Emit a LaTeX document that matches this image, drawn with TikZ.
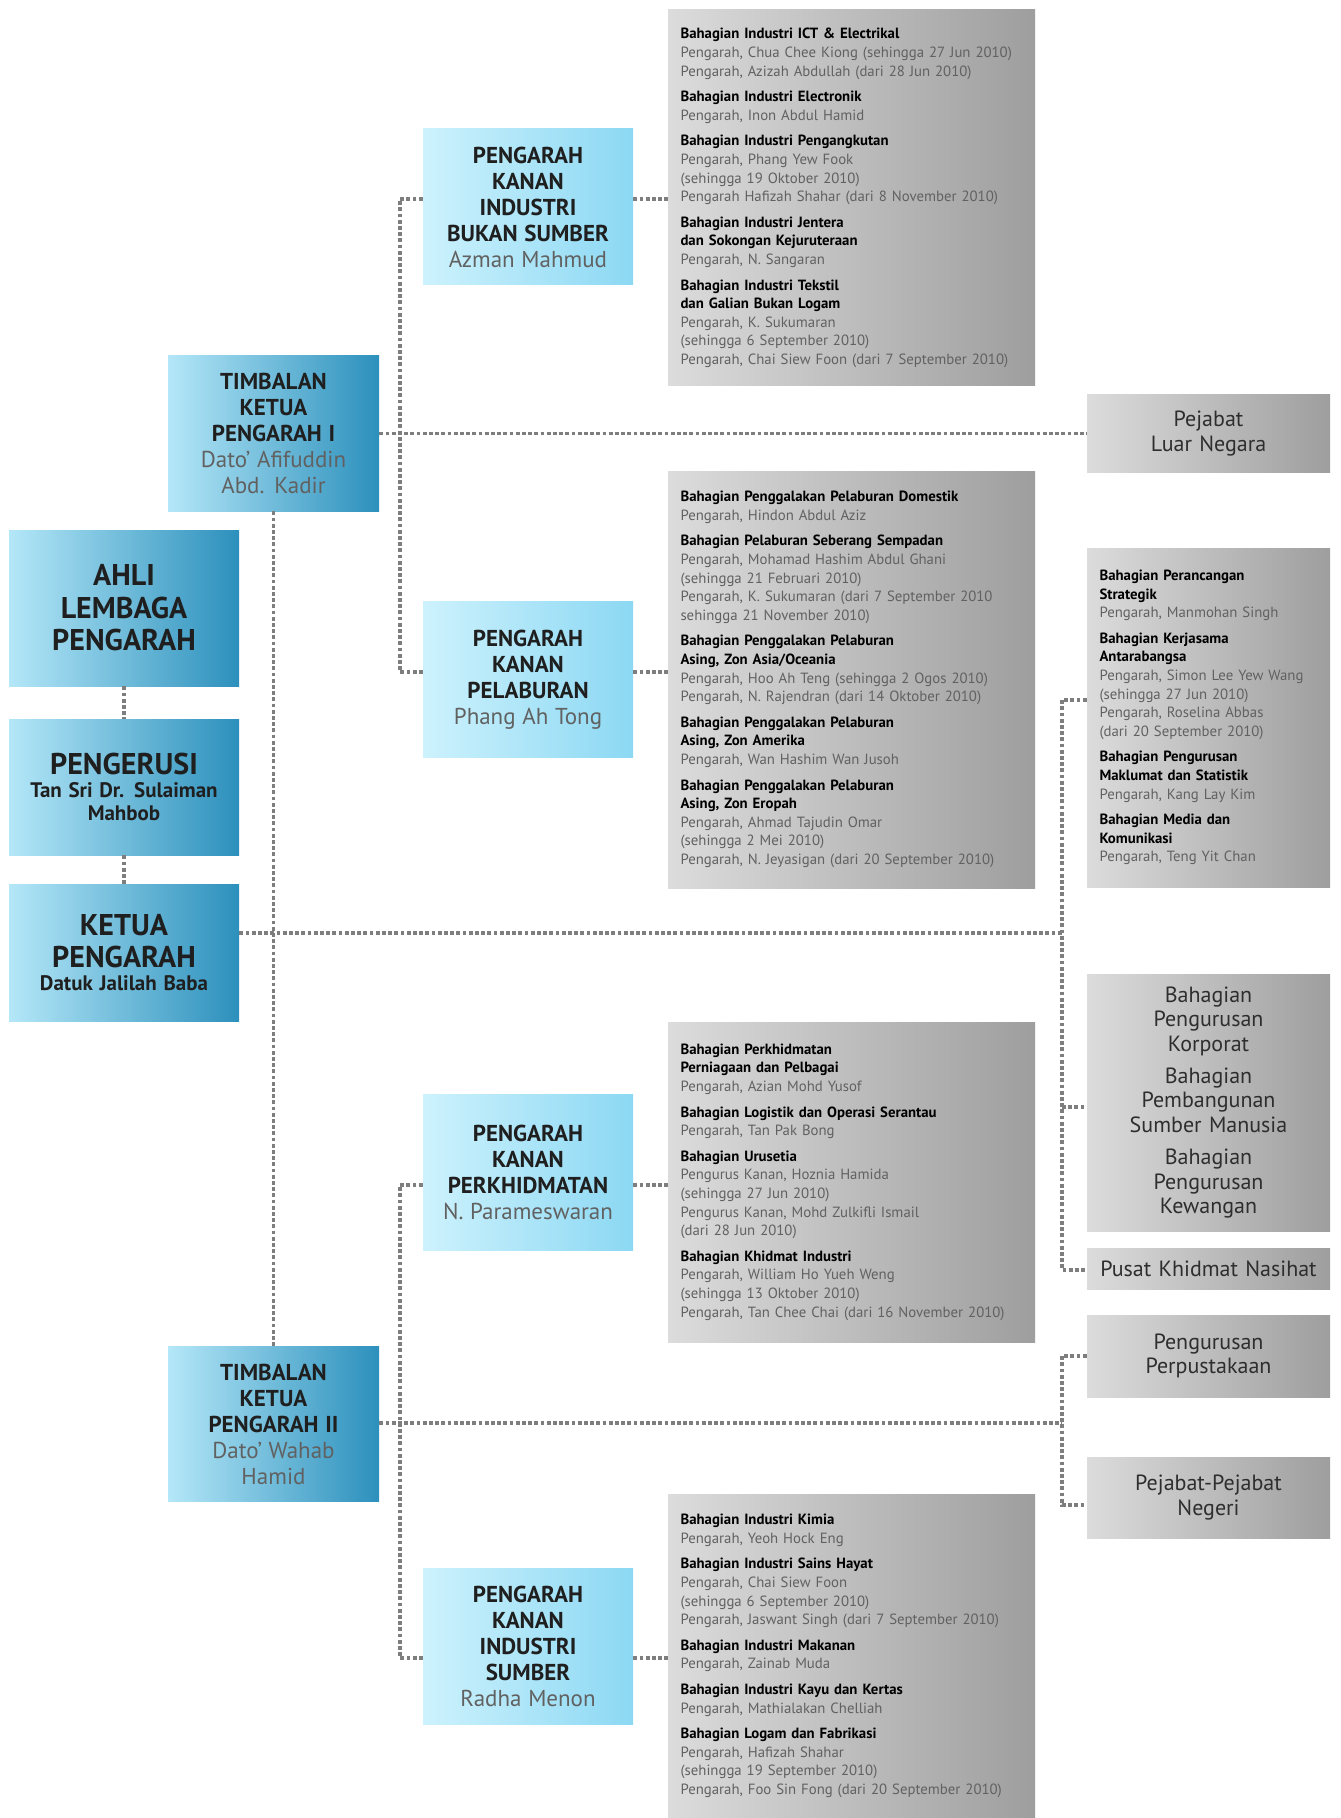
\documentclass[tikz,border=0pt]{standalone}
\usepackage{fontspec}
\setmainfont{PT Sans}
\definecolor{biruA}{HTML}{B4E7F8}
\definecolor{biruB}{HTML}{2C90BC}
\definecolor{biruC}{HTML}{CDF2FD}
\definecolor{biruD}{HTML}{8CD8F3}
\definecolor{kelabuA}{HTML}{DCDCDC}
\definecolor{kelabuB}{HTML}{9E9E9E}
\definecolor{garisan}{HTML}{7E7E7E}
\tikzset{ketua/.style={rectangle,left color=biruA,right color=biruB,minimum width=115pt,
    text width=111pt,inner sep=2pt,align=center,text=black!88},
  timbalan/.style={ketua,minimum width=105.5pt,text width=101.5pt,minimum height=77.5pt},
  kanan/.style={rectangle,left color=biruC,right color=biruD,minimum width=105pt,
    text width=101pt,minimum height=78pt,inner sep=2pt,align=center,text=black!88},
  bahagian/.style={rectangle,left color=kelabuA,right color=kelabuB,inner xsep=6.25pt,
    inner ysep=0pt,text width=171pt,align=left,font=\fontsize{7.4}{9.3}\selectfont},
  unit/.style={rectangle,left color=kelabuA,right color=kelabuB,minimum width=121.5pt,
    text width=117.5pt,inner sep=2pt,align=center,text=black!82,
    font=\fontsize{11}{12.2}\selectfont},
  garis/.style={draw=garisan,line width=1.7pt,dash pattern=on 1.9pt off 1.2pt}}
\newcommand{\tajuk}[1]{\textbf{#1}}
\newcommand{\nama}[1]{{\color{black!62}#1}}
\newcommand{\sela}{\\[3.5pt]}
\newcommand{\besar}{\fontsize{15}{16.3}\selectfont\bfseries}
\newcommand{\jawatan}{\fontsize{11.5}{13}\selectfont\bfseries}
\newcommand{\orang}{\fontsize{11.5}{13}\selectfont\mdseries\color{black!62}}
\begin{document}
\begin{tikzpicture}[x=0.5pt,y=-0.5pt]
  \useasboundingbox (0,0) rectangle (1340,1818);
  % lembaga dan ketua pengarah
  \node[ketua,minimum height=78pt] (ahli) at (124,608) {{\besar AHLI\\LEMBAGA\\PENGARAH\par}};
  \node[ketua,minimum height=68pt] (pengerusi) at (124,787)
    {{\besar PENGERUSI\par}{\fontsize{10.5}{11.5}\selectfont\bfseries Tan Sri Dr. Sulaiman\\Mahbob\par}};
  \node[ketua,minimum height=68.5pt] (ketua) at (124,952.5)
    {{\besar KETUA\\PENGARAH\par}{\fontsize{10.5}{11.5}\selectfont\bfseries Datuk Jalilah Baba\par}};
  % timbalan
  \node[timbalan] (tkp1) at (273.5,433.5)
    {{\jawatan TIMBALAN\\KETUA\\PENGARAH I\par}{\orang Dato’ Afifuddin\\Abd. Kadir\par}};
  \node[timbalan] (tkp2) at (273.5,1424)
    {{\jawatan TIMBALAN\\KETUA\\PENGARAH II\par}{\orang Dato’ Wahab\\Hamid\par}};
  % pengarah kanan
  \node[kanan] (pkibs) at (528,207)
    {{\jawatan PENGARAH\\KANAN\\INDUSTRI\\BUKAN SUMBER\par}{\orang Azman Mahmud\par}};
  \node[kanan] (pkp) at (528,679.5)
    {{\jawatan PENGARAH\\KANAN\\PELABURAN\par}{\orang Phang Ah Tong\par}};
  \node[kanan] (pkper) at (528,1172.5)
    {{\jawatan PENGARAH\\KANAN\\PERKHIDMATAN\par}{\orang N. Parameswaran\par}};
  \node[kanan] (pkis) at (528,1646)
    {{\jawatan PENGARAH\\KANAN\\INDUSTRI\\SUMBER\par}{\orang Radha Menon\par}};
  % bahagian
  \node[bahagian,minimum height=188pt] (g1) at (851.5,198) {%
    \tajuk{Bahagian Industri ICT \& Electrikal}\\
    \nama{Pengarah, Chua Chee Kiong (sehingga 27 Jun 2010)}\\
    \nama{Pengarah, Azizah Abdullah (dari 28 Jun 2010)}\sela
    \tajuk{Bahagian Industri Electronik}\\
    \nama{Pengarah, Inon Abdul Hamid}\sela
    \tajuk{Bahagian Industri Pengangkutan}\\
    \nama{Pengarah, Phang Yew Fook}\\
    \nama{(sehingga 19 Oktober 2010)}\\
    \nama{Pengarah Hafizah Shahar (dari 8 November 2010)}\sela
    \tajuk{Bahagian Industri Jentera}\\
    \tajuk{dan Sokongan Kejuruteraan}\\
    \nama{Pengarah, N. Sangaran}\sela
    \tajuk{Bahagian Industri Tekstil}\\
    \tajuk{dan Galian Bukan Logam}\\
    \nama{Pengarah, K. Sukumaran}\\
    \nama{(sehingga 6 September 2010)}\\
    \nama{Pengarah, Chai Siew Foon (dari 7 September 2010)}};
  \node[bahagian,minimum height=208.5pt] (g2) at (851.5,679.5) {%
    \tajuk{Bahagian Penggalakan Pelaburan Domestik}\\
    \nama{Pengarah, Hindon Abdul Aziz}\sela
    \tajuk{Bahagian Pelaburan Seberang Sempadan}\\
    \nama{Pengarah, Mohamad Hashim Abdul Ghani}\\
    \nama{(sehingga 21 Februari 2010)}\\
    \nama{Pengarah, K. Sukumaran (dari 7 September 2010}\\
    \nama{sehingga 21 November 2010)}\sela
    \tajuk{Bahagian Penggalakan Pelaburan}\\
    \tajuk{Asing, Zon Asia/Oceania}\\
    \nama{Pengarah, Hoo Ah Teng (sehingga 2 Ogos 2010)}\\
    \nama{Pengarah, N. Rajendran (dari 14 Oktober 2010)}\sela
    \tajuk{Bahagian Penggalakan Pelaburan}\\
    \tajuk{Asing, Zon Amerika}\\
    \nama{Pengarah, Wan Hashim Wan Jusoh}\sela
    \tajuk{Bahagian Penggalakan Pelaburan}\\
    \tajuk{Asing, Zon Eropah}\\
    \nama{Pengarah, Ahmad Tajudin Omar}\\
    \nama{(sehingga 2 Mei 2010)}\\
    \nama{Pengarah, N. Jeyasigan (dari 20 September 2010)}};
  \node[bahagian,minimum height=160pt] (g3) at (851.5,1182) {%
    \tajuk{Bahagian Perkhidmatan}\\
    \tajuk{Perniagaan dan Pelbagai}\\
    \nama{Pengarah, Azian Mohd Yusof}\sela
    \tajuk{Bahagian Logistik dan Operasi Serantau}\\
    \nama{Pengarah, Tan Pak Bong}\sela
    \tajuk{Bahagian Urusetia}\\
    \nama{Pengurus Kanan, Hoznia Hamida}\\
    \nama{(sehingga 27 Jun 2010)}\\
    \nama{Pengurus Kanan, Mohd Zulkifli Ismail}\\
    \nama{(dari 28 Jun 2010)}\sela
    \tajuk{Bahagian Khidmat Industri}\\
    \nama{Pengarah, William Ho Yueh Weng}\\
    \nama{(sehingga 13 Oktober 2010)}\\
    \nama{Pengarah, Tan Chee Chai (dari 16 November 2010)}};
  \node[bahagian,minimum height=162pt] (g4) at (851.5,1656) {%
    \tajuk{Bahagian Industri Kimia}\\
    \nama{Pengarah, Yeoh Hock Eng}\sela
    \tajuk{Bahagian Industri Sains Hayat}\\
    \nama{Pengarah, Chai Siew Foon}\\
    \nama{(sehingga 6 September 2010)}\\
    \nama{Pengarah, Jaswant Singh (dari 7 September 2010)}\sela
    \tajuk{Bahagian Industri Makanan}\\
    \nama{Pengarah, Zainab Muda}\sela
    \tajuk{Bahagian Industri Kayu dan Kertas}\\
    \nama{Pengarah, Mathialakan Chelliah}\sela
    \tajuk{Bahagian Logam dan Fabrikasi}\\
    \nama{Pengarah, Hafizah Shahar}\\
    \nama{(sehingga 19 September 2010)}\\
    \nama{Pengarah, Foo Sin Fong (dari 20 September 2010)}};
  % unit di bawah ketua pengarah
  \node[unit,minimum height=38.5pt] (pln) at (1208.5,433.5) {Pejabat\\Luar Negara};
  \node[bahagian,minimum width=121.5pt,text width=109pt,minimum height=169.5pt] (strat) at (1208.5,717.5) {%
    \tajuk{Bahagian Perancangan}\\
    \tajuk{Strategik}\\
    \nama{Pengarah, Manmohan Singh}\sela
    \tajuk{Bahagian Kerjasama}\\
    \tajuk{Antarabangsa}\\
    \nama{Pengarah, Simon Lee Yew Wang}\\
    \nama{(sehingga 27 Jun 2010)}\\
    \nama{Pengarah, Roselina Abbas}\\
    \nama{(dari 20 September 2010)}\sela
    \tajuk{Bahagian Pengurusan}\\
    \tajuk{Maklumat dan Statistik}\\
    \nama{Pengarah, Kang Lay Kim}\sela
    \tajuk{Bahagian Media dan}\\
    \tajuk{Komunikasi}\\
    \nama{Pengarah, Teng Yit Chan}};
  \node[unit,minimum height=128.5pt] (korporat) at (1208.5,1102.5)
    {Bahagian\\Pengurusan\\Korporat\\[4pt]Bahagian\\Pembangunan\\Sumber Manusia\\[4pt]Bahagian\\Pengurusan\\Kewangan};
  \node[unit,minimum height=20.5pt] (pusat) at (1208.5,1268.5) {Pusat Khidmat Nasihat};
  \node[unit,minimum height=41pt] (perpus) at (1208.5,1356) {Pengurusan\\Perpustakaan};
  \node[unit,minimum height=40.5pt] (negeri) at (1208.5,1497.5) {Pejabat-Pejabat\\Negeri};
  % titik simpang
  \coordinate (a1) at (400,199);
  \coordinate (a2) at (400,672);
  \coordinate (d1) at (400,1185);
  \coordinate (d2) at (400,1658);
  \coordinate (k1) at (1062,933);
  \coordinate (k2) at (1062,1423);
  \coordinate (b1) at (1062,700);
  \coordinate (b2) at (1062,1270);
  \coordinate (b3) at (1062,1107);
  \coordinate (c1) at (1062,1356);
  \coordinate (c2) at (1062,1505);
  % garis
  \draw[garis] (ahli) -- (pengerusi);
  \draw[garis] (pengerusi) -- (ketua);
  \draw[garis] (tkp1) -- (tkp2);
  \draw[garis] (tkp1) -- (pln);
  \draw[garis] (a1 -| pkibs.west) -- (a1) -- (a2) -- (a2 -| pkp.west);
  \draw[garis] (a1 -| pkibs.east) -- (a1 -| g1.west);
  \draw[garis] (a2 -| pkp.east) -- (a2 -| g2.west);
  \draw[garis] (d1 -| pkper.west) -- (d1) -- (d2) -- (d2 -| pkis.west);
  \draw[garis] (d1 -| pkper.east) -- (d1 -| g3.west);
  \draw[garis] (d2 -| pkis.east) -- (d2 -| g4.west);
  \draw[garis] (k1 -| ketua.east) -- (k1);
  \draw[garis] (k2 -| tkp2.east) -- (k2);
  \draw[garis] (b1 -| strat.west) -- (b1) -- (b2) -- (b2 -| pusat.west);
  \draw[garis] (b3) -- (b3 -| korporat.west);
  \draw[garis] (c1 -| perpus.west) -- (c1) -- (c2) -- (c2 -| negeri.west);
\end{tikzpicture}
\end{document}
